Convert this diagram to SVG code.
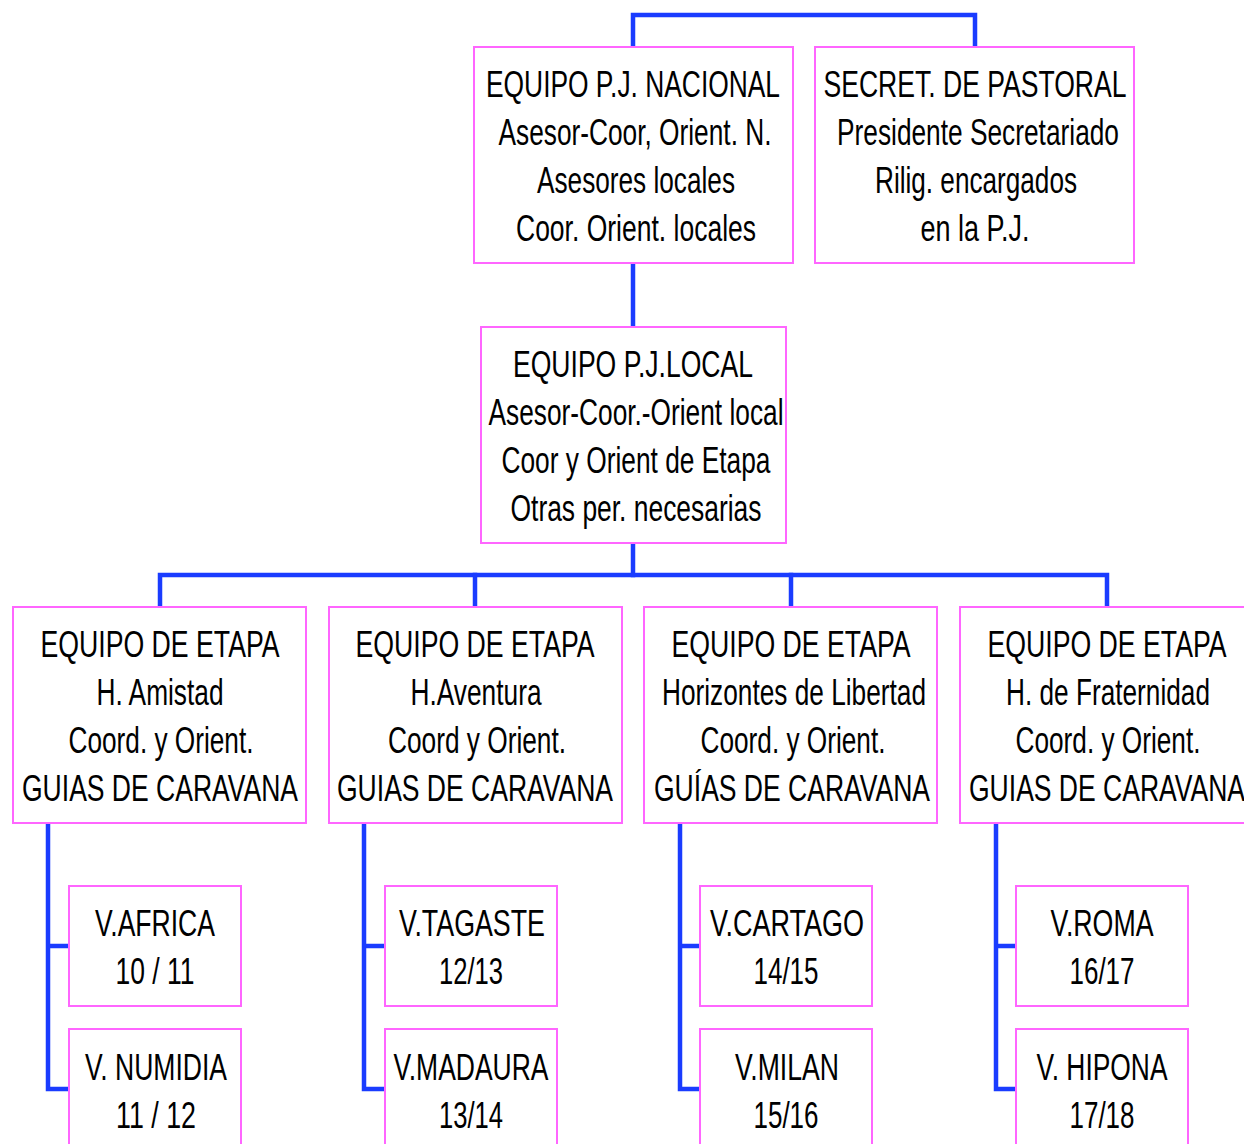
<svg xmlns="http://www.w3.org/2000/svg" width="1244" height="1144" viewBox="0 0 1244 1144">
<style>
.box{fill:#fff;stroke:#ff66ff;stroke-width:2}
.t{font-family:"Liberation Sans",Arial,sans-serif;font-size:37px;fill:#000;text-anchor:middle}
.c{fill:none;stroke:#1a3cff;stroke-width:4.5;stroke-linecap:square;stroke-linejoin:miter}
</style>
<rect width="1244" height="1144" fill="#fff"/>
<g id="connectors">
<path class="c" d="M633 47 V15 H975 V47"/>
<path class="c" d="M633 263 V327"/>
<path class="c" d="M633 543 V575"/>
<path class="c" d="M160 607 V575 H1107 V607"/>
<path class="c" d="M475 575 V607"/>
<path class="c" d="M791 575 V607"/>
<path class="c" d="M48 823 V1089 H69 M48 946 H69"/>
<path class="c" d="M364 823 V1089 H385 M364 946 H385"/>
<path class="c" d="M680 823 V1089 H700 M680 946 H700"/>
<path class="c" d="M996 823 V1089 H1016 M996 946 H1016"/>
</g>
<g id="n-nacional">
<rect class="box" x="474" y="47" width="319" height="216"/>
<text class="t" x="633" y="97" textLength="294" lengthAdjust="spacingAndGlyphs">EQUIPO P.J. NACIONAL</text>
<text class="t" x="635" y="145" textLength="273" lengthAdjust="spacingAndGlyphs">Asesor-Coor, Orient. N.</text>
<text class="t" x="636" y="193" textLength="198" lengthAdjust="spacingAndGlyphs">Asesores locales</text>
<text class="t" x="636" y="241" textLength="240" lengthAdjust="spacingAndGlyphs">Coor. Orient. locales</text>
</g>
<g id="n-secret">
<rect class="box" x="815" y="47" width="319" height="216"/>
<text class="t" x="975" y="97" textLength="303" lengthAdjust="spacingAndGlyphs">SECRET. DE PASTORAL</text>
<text class="t" x="978" y="145" textLength="282" lengthAdjust="spacingAndGlyphs">Presidente Secretariado</text>
<text class="t" x="976" y="193" textLength="202" lengthAdjust="spacingAndGlyphs">Rilig. encargados</text>
<text class="t" x="975" y="241" textLength="109" lengthAdjust="spacingAndGlyphs">en la P.J.</text>
</g>
<g id="n-local">
<rect class="box" x="481" y="327" width="305" height="216"/>
<text class="t" x="633" y="377" textLength="240" lengthAdjust="spacingAndGlyphs">EQUIPO P.J.LOCAL</text>
<text class="t" x="636" y="425" textLength="295" lengthAdjust="spacingAndGlyphs">Asesor-Coor.-Orient local</text>
<text class="t" x="636" y="473" textLength="269" lengthAdjust="spacingAndGlyphs">Coor y Orient de Etapa</text>
<text class="t" x="636" y="521" textLength="251" lengthAdjust="spacingAndGlyphs">Otras per. necesarias</text>
</g>
<g id="n-etapa1">
<rect class="box" x="13" y="607" width="293" height="216"/>
<text class="t" x="160" y="657" textLength="239" lengthAdjust="spacingAndGlyphs">EQUIPO DE ETAPA</text>
<text class="t" x="160" y="705" textLength="127" lengthAdjust="spacingAndGlyphs">H. Amistad</text>
<text class="t" x="161" y="753" textLength="185" lengthAdjust="spacingAndGlyphs">Coord. y Orient.</text>
<text class="t" x="160" y="801" textLength="276" lengthAdjust="spacingAndGlyphs">GUIAS DE CARAVANA</text>
</g>
<g id="n-etapa2">
<rect class="box" x="329" y="607" width="293" height="216"/>
<text class="t" x="475" y="657" textLength="239" lengthAdjust="spacingAndGlyphs">EQUIPO DE ETAPA</text>
<text class="t" x="476" y="705" textLength="131" lengthAdjust="spacingAndGlyphs">H.Aventura</text>
<text class="t" x="477" y="753" textLength="178" lengthAdjust="spacingAndGlyphs">Coord y Orient.</text>
<text class="t" x="475" y="801" textLength="276" lengthAdjust="spacingAndGlyphs">GUIAS DE CARAVANA</text>
</g>
<g id="n-etapa3">
<rect class="box" x="644" y="607" width="293" height="216"/>
<text class="t" x="791" y="657" textLength="239" lengthAdjust="spacingAndGlyphs">EQUIPO DE ETAPA</text>
<text class="t" x="794" y="705" textLength="264" lengthAdjust="spacingAndGlyphs">Horizontes de Libertad</text>
<text class="t" x="793" y="753" textLength="185" lengthAdjust="spacingAndGlyphs">Coord. y Orient.</text>
<text class="t" x="792" y="801" textLength="276" lengthAdjust="spacingAndGlyphs">GUÍAS DE CARAVANA</text>
</g>
<g id="n-etapa4">
<rect class="box" x="960" y="607" width="294" height="216"/>
<text class="t" x="1107" y="657" textLength="239" lengthAdjust="spacingAndGlyphs">EQUIPO DE ETAPA</text>
<text class="t" x="1108" y="705" textLength="204" lengthAdjust="spacingAndGlyphs">H. de Fraternidad</text>
<text class="t" x="1108" y="753" textLength="185" lengthAdjust="spacingAndGlyphs">Coord. y Orient.</text>
<text class="t" x="1107" y="801" textLength="276" lengthAdjust="spacingAndGlyphs">GUIAS DE CARAVANA</text>
</g>
<g id="n-africa">
<rect class="box" x="69" y="886" width="172" height="120"/>
<text class="t" x="155" y="936" textLength="120" lengthAdjust="spacingAndGlyphs">V.AFRICA</text>
<text class="t" x="155" y="984" textLength="79" lengthAdjust="spacingAndGlyphs">10 / 11</text>
</g>
<g id="n-numidia">
<rect class="box" x="69" y="1029" width="172" height="130"/>
<text class="t" x="156" y="1080" textLength="142" lengthAdjust="spacingAndGlyphs">V. NUMIDIA</text>
<text class="t" x="156" y="1128" textLength="80" lengthAdjust="spacingAndGlyphs">11 / 12</text>
</g>
<g id="n-tagaste">
<rect class="box" x="385" y="886" width="172" height="120"/>
<text class="t" x="472" y="936" textLength="146" lengthAdjust="spacingAndGlyphs">V.TAGASTE</text>
<text class="t" x="471" y="984" textLength="64" lengthAdjust="spacingAndGlyphs">12/13</text>
</g>
<g id="n-madaura">
<rect class="box" x="385" y="1029" width="172" height="130"/>
<text class="t" x="471" y="1080" textLength="155" lengthAdjust="spacingAndGlyphs">V.MADAURA</text>
<text class="t" x="471" y="1128" textLength="64" lengthAdjust="spacingAndGlyphs">13/14</text>
</g>
<g id="n-cartago">
<rect class="box" x="700" y="886" width="172" height="120"/>
<text class="t" x="787" y="936" textLength="154" lengthAdjust="spacingAndGlyphs">V.CARTAGO</text>
<text class="t" x="786" y="984" textLength="65" lengthAdjust="spacingAndGlyphs">14/15</text>
</g>
<g id="n-milan">
<rect class="box" x="700" y="1029" width="172" height="130"/>
<text class="t" x="787" y="1080" textLength="104" lengthAdjust="spacingAndGlyphs">V.MILAN</text>
<text class="t" x="786" y="1128" textLength="65" lengthAdjust="spacingAndGlyphs">15/16</text>
</g>
<g id="n-roma">
<rect class="box" x="1016" y="886" width="172" height="120"/>
<text class="t" x="1102" y="936" textLength="103" lengthAdjust="spacingAndGlyphs">V.ROMA</text>
<text class="t" x="1102" y="984" textLength="65" lengthAdjust="spacingAndGlyphs">16/17</text>
</g>
<g id="n-hipona">
<rect class="box" x="1016" y="1029" width="172" height="130"/>
<text class="t" x="1102" y="1080" textLength="131" lengthAdjust="spacingAndGlyphs">V. HIPONA</text>
<text class="t" x="1102" y="1128" textLength="65" lengthAdjust="spacingAndGlyphs">17/18</text>
</g>
</svg>
